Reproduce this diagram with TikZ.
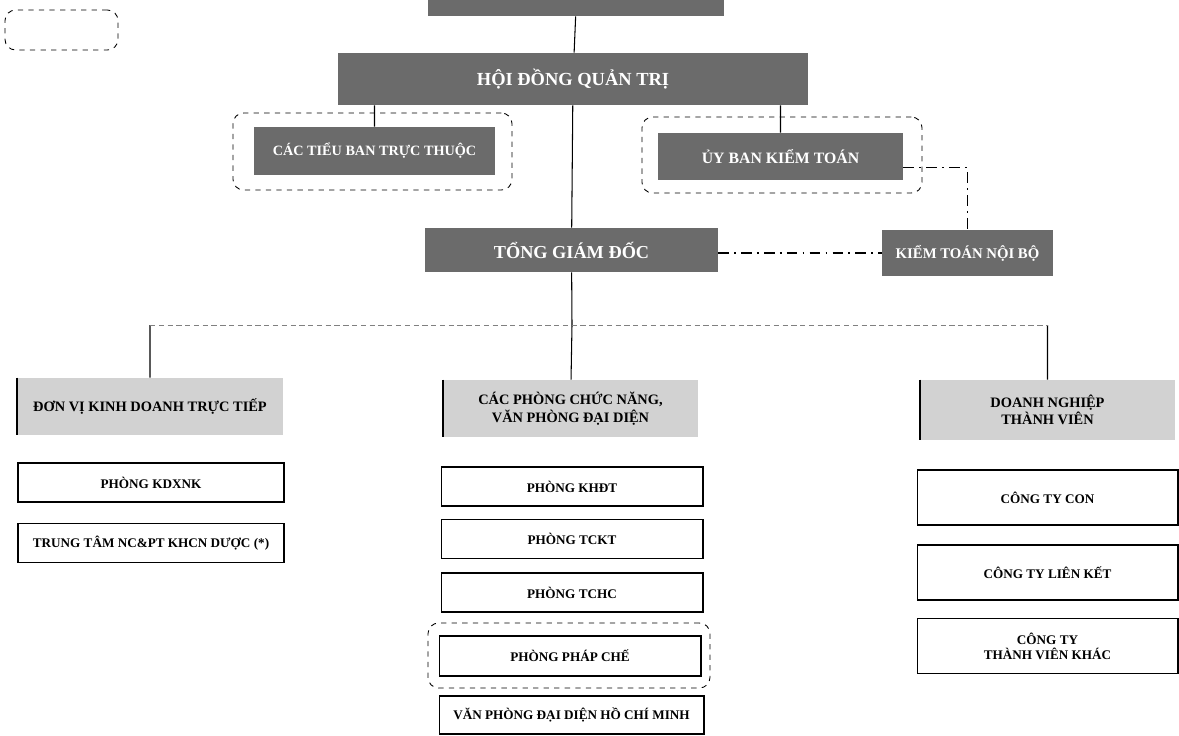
\documentclass[tikz,border=0pt]{standalone}
\usepackage{fontspec}
\setmainfont{Liberation Serif}
\usepackage{tikz}
\usetikzlibrary{positioning}
\definecolor{darkgrey}{HTML}{6B6B6B}
\definecolor{lightgrey}{HTML}{D2D2D2}
\tikzset{%
    darkbox/.style={%
        fill=darkgrey, text=white, font=\bfseries\fontsize{9}{10}\selectfont,
        inner sep=0pt, align=center
    },
    headbox/.style={%
        fill=lightgrey, font=\bfseries\fontsize{8.2}{10}\selectfont,
        inner sep=0pt, align=center
    },
    unitbox/.style={%
        draw, line width=0.6pt, font=\bfseries\fontsize{7.5}{8.5}\selectfont,
        inner sep=0pt, align=center
    },
    grpbox/.style={%
        draw, dashed, rounded corners=6pt, line width=0.5pt, inner sep=0pt
    },
    link/.style={%
        draw, line width=0.6pt
    },
    sidelink/.style={%
        draw, line width=0.6pt, dash pattern=on 6pt off 3pt on 1pt off 3pt
    }
}

\begin{document}
\begin{tikzpicture}[x=0.02cm, y=-0.02cm]
    \useasboundingbox (0,0) rectangle (1179,735);

    % top level
    \node[darkbox, minimum width=5.92cm, minimum height=0.32cm] (dhcd) at (576,8) {};
    \node[grpbox, minimum width=2.26cm, minimum height=0.8cm] (note) at (61.5,30) {};
    \node[darkbox, minimum width=9.4cm, minimum height=1.04cm,
        font=\bfseries\fontsize{10.5}{12}\selectfont] (hdqt) at (573,79) {HỘI ĐỒNG QUẢN TRỊ};

    \node[grpbox, minimum width=5.58cm, minimum height=1.54cm] (grptb) at (372.5,151.5) {};
    \node[darkbox, minimum width=4.82cm, minimum height=0.96cm,
        font=\bfseries\fontsize{8.1}{10}\selectfont] (tieuban) at (374.5,151) {CÁC TIỂU BAN TRỰC THUỘC};
    \node[grpbox, minimum width=5.6cm, minimum height=1.52cm] (grpkt) at (782,155) {};
    \node[darkbox, minimum width=4.9cm, minimum height=0.94cm] (ubkt) at (780.5,156.5) {ỦY BAN KIỂM TOÁN};

    \node[darkbox, minimum width=5.86cm, minimum height=0.88cm,
        font=\bfseries\fontsize{10.4}{12}\selectfont] (tgd) at (571.5,250) {TỔNG GIÁM ĐỐC};
    \node[darkbox, minimum width=3.42cm, minimum height=0.92cm,
        font=\bfseries\fontsize{8.4}{10}\selectfont] (ktnb) at (967.5,253) {KIỂM TOÁN NỘI BỘ};

    % three branches
    \node[headbox, minimum width=5.32cm, minimum height=1.14cm] (dvkd) at (150,406.5) {ĐƠN VỊ KINH DOANH TRỰC TIẾP};
    \node[headbox, minimum width=5.1cm, minimum height=1.14cm] (cpcn) at (570.5,408.5) {CÁC PHÒNG CHỨC NĂNG,\\VĂN PHÒNG ĐẠI DIỆN};
    \node[headbox, minimum width=5.1cm, minimum height=1.2cm] (dntv) at (1047.5,410) {DOANH NGHIỆP\\THÀNH VIÊN};

    \node[unitbox, minimum width=5.32cm, minimum height=0.78cm] (kdxnk) at (151,482.5) {PHÒNG KDXNK};
    \node[unitbox, minimum width=5.32cm, minimum height=0.78cm] (ncpt) at (151,543) {TRUNG TÂM NC\&PT KHCN DƯỢC (*)};

    \node[unitbox, minimum width=5.24cm, minimum height=0.78cm] (khdt) at (572,486.5) {PHÒNG KHĐT};
    \node[unitbox, minimum width=5.24cm, minimum height=0.78cm] (tckt) at (572,539) {PHÒNG TCKT};
    \node[unitbox, minimum width=5.24cm, minimum height=0.78cm] (tchc) at (572,592.5) {PHÒNG TCHC};
    \node[grpbox, minimum width=5.64cm, minimum height=1.3cm] (grppc) at (569,655.5) {};
    \node[unitbox, minimum width=5.24cm, minimum height=0.8cm] (phapche) at (570,656) {PHÒNG PHÁP CHẾ};
    \node[unitbox, minimum width=5.3cm, minimum height=0.76cm] (vpdd) at (571.5,715) {VĂN PHÒNG ĐẠI DIỆN HỒ CHÍ MINH};

    \node[unitbox, minimum width=5.22cm, minimum height=1.1cm] (ctcon) at (1047.5,497.5) {CÔNG TY CON};
    \node[unitbox, minimum width=5.22cm, minimum height=1.1cm] (ctlk) at (1047.5,572.5) {CÔNG TY LIÊN KẾT};
    \node[unitbox, minimum width=5.22cm, minimum height=1.1cm] (cttvk) at (1047.5,646) {CÔNG TY\\THÀNH VIÊN KHÁC};

    \coordinate (bar) at (572,325);

    \path[link]
        (dhcd) -- (hdqt)
        (hdqt) -- (tgd)
        (hdqt.south -| tieuban.north) -- (tieuban.north)
        (hdqt.south -| ubkt.north) -- (ubkt.north)
        (tgd) -- (bar)
        (bar) -- (cpcn)
        (dvkd.north |- bar) -- (dvkd.north)
        (dntv.north |- bar) -- (dntv.north);

    \draw[line width=0.5pt, gray, densely dashed]
        (dvkd.north |- bar) -- (dntv.north |- bar);

    \path[sidelink]
        ([yshift=-6.5pt]ubkt.east) -| (ktnb.north)
        (tgd.east |- ktnb.west) -- (ktnb.west);

    % dark left edges of the branch heads
    \foreach \h in {dvkd, cpcn, dntv}
        \draw[line width=1.2pt] (\h.north west) -- (\h.south west);
\end{tikzpicture}
\end{document}
